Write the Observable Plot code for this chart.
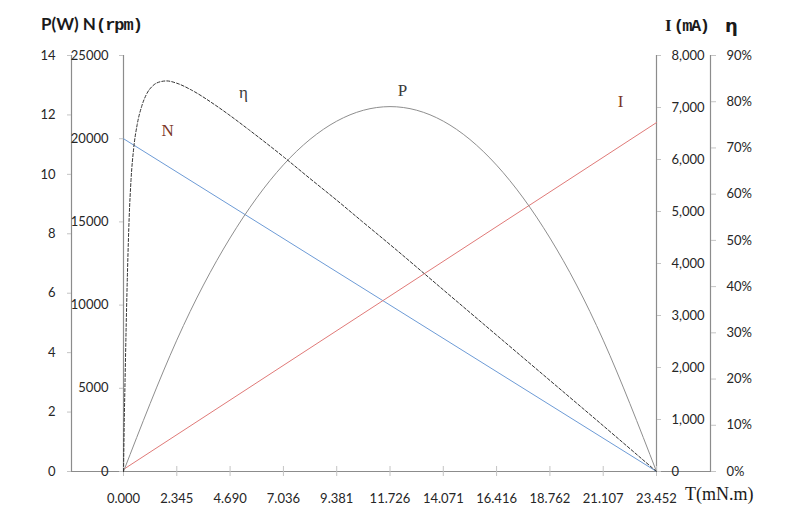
<!DOCTYPE html>
<html><head><meta charset="utf-8">
<script src="https://cdn.jsdelivr.net/npm/d3@7"></script>
<script src="https://cdn.jsdelivr.net/npm/@observablehq/plot@0.6"></script>
<style>
body{margin:0;background:#fff;}
#wrap{position:relative;width:808px;height:516px;overflow:hidden;background:#fff;}
#wrap svg{position:absolute;left:0;top:0;}
.lab{position:absolute;white-space:nowrap;color:#1a1a1a;line-height:1;}
</style></head><body><div id="wrap"></div>
<script>
// ---- data ----
const xTicks = [0, 2.345, 4.690, 7.036, 9.381, 11.726, 14.071, 16.416, 18.762, 21.107, 23.452];
const powerT = [0, 2.345, 4.690, 7.036, 9.381, 11.726, 14.071, 16.416, 18.762, 21.107, 23.452];
const powerW = [0, 4.42, 7.86, 10.32, 11.79, 12.28, 11.79, 10.31, 7.86, 4.42, 0];
const speedT = [0, 23.452];
const speedRpm = [20000, 0];
const currentT = [0, 23.452];
const currentMA = [40, 6710];
const effT = [0, 0.03, 0.07, 0.12, 0.18, 0.25, 0.33, 0.45, 0.6, 0.8, 1.0, 1.3, 1.6, 1.9, 2.345, 3.0, 4.0, 4.69, 5.5, 7.036, 8.2, 9.381, 10.5, 11.726, 14.071, 16.416, 18.762, 21.107, 23.452];
const effPct = [0, 10, 20, 32, 44, 55, 63, 70, 75, 79, 81.5, 83.5, 84.3, 84.5, 84.0, 82.5, 79.4, 77.0, 74.0, 68.1, 63.4, 58.7, 54.1, 49.1, 39.3, 29.5, 19.7, 9.9, 0];
const pTicks = [0, 2, 4, 6, 8, 10, 12, 14];
const nTicks = [0, 5000, 10000, 15000, 20000, 25000];
const iTicks = [0, 1000, 2000, 3000, 4000, 5000, 6000, 7000, 8000];
const effTicks = [0, 10, 20, 30, 40, 50, 60, 70, 80, 90];
const curveNames = ["N", "η", "P", "I"];
const curveLabelT = [1.94, 5.28, 12.28, 21.87];
const curveLabelP = [11.48, 12.75, 12.82, 12.45];
const curveLabelColor = ["#7b3526", "#3a3a3a", "#3a3a3a", "#7b3526"];

const P_MAX = 14, N_MAX = 25000, I_MAX = 8000, E_MAX = 90;

const lineData = (ts, vs, max) => ts.map((t, i) => ({t, v: vs[i] / max}));
const powerData = lineData(powerT, powerW, P_MAX);
const speedData = lineData(speedT, speedRpm, N_MAX);
const currentData = lineData(currentT, currentMA, I_MAX);
const effData = lineData(effT, effPct, E_MAX);
const labels = curveNames.map((n, i) => ({n, t: curveLabelT[i], v: curveLabelP[i] / P_MAX, c: curveLabelColor[i]}));

const tickCol = "#c4c4c4", axisCol = "#8c8c8c", textCol = "#262626";
const tMin = xTicks[0], tMax = xTicks[xTicks.length - 1];

const chart = Plot.plot({
  width: 808, height: 516,
  marginTop: 55, marginBottom: 45, marginLeft: 71, marginRight: 98,
  x: {domain: [-2.288, 25.828], label: null},
  y: {domain: [0, 1], label: null},
  style: {fontFamily: "Lato, 'Open Sans', sans-serif", fontSize: "13px", color: textCol, background: "white"},
  marks: [
    // axis lines
    Plot.ruleY([0], {stroke: axisCol, strokeWidth: 1.2}),
    Plot.frame({anchor: "left", stroke: axisCol, strokeWidth: 1.2}),
    Plot.frame({anchor: "right", stroke: axisCol, strokeWidth: 1.2}),
    Plot.ruleX([tMin, tMax], {stroke: axisCol, strokeWidth: 1.2}),
    // P axis
    Plot.axisY(pTicks.map(v => v / P_MAX), {anchor: "left", label: null, tickSize: 4, tickPadding: 12, stroke: tickCol, fill: textCol,
      tickFormat: d => String(Math.round(d * P_MAX))}),
    // N axis
    Plot.axisY(nTicks.map(v => v / N_MAX), {anchor: "left", label: null, dx: 52, tickSize: 4, tickPadding: 11, stroke: tickCol, fill: textCol,
      tickFormat: d => String(Math.round(d * N_MAX))}),
    // I axis
    Plot.axisY(iTicks.map(v => v / I_MAX), {anchor: "right", label: null, dx: -54, tickSize: 4, tickPadding: 11, stroke: tickCol, fill: textCol,
      tickFormat: d => d3.format(",")(Math.round(d * I_MAX))}),
    // efficiency axis
    Plot.axisY(effTicks.map(v => v / E_MAX), {anchor: "right", label: null, tickSize: 5, tickPadding: 11, stroke: tickCol, fill: textCol,
      tickFormat: d => Math.round(d * E_MAX) + "%"}),
    // T axis
    Plot.axisX(xTicks, {anchor: "bottom", label: null, tickSize: 10, dy: -5, tickPadding: 17, stroke: tickCol, fill: textCol,
      tickFormat: d => d.toFixed(3)}),
    // curves
    Plot.line(speedData, {x: "t", y: "v", stroke: "#6d9bd6", strokeWidth: 1}),
    Plot.line(currentData, {x: "t", y: "v", stroke: "#e07a78", strokeWidth: 1}),
    Plot.line(powerData, {x: "t", y: "v", stroke: "#8e8e8e", strokeWidth: 1, curve: "natural"}),
    Plot.line(effData, {x: "t", y: "v", stroke: "#333", strokeWidth: 1, strokeDasharray: "3,2", curve: "monotone-x"}),
    // curve labels
    Plot.text(labels, {x: "t", y: "v", text: "n", fill: "c", fontFamily: "'Liberation Serif', 'DejaVu Serif', serif", fontSize: 17})
  ]
});
const wrap = document.getElementById("wrap");
wrap.appendChild(chart);

function addLabel(html, left, top, css) {
  const d = document.createElement("div");
  d.className = "lab";
  d.innerHTML = html;
  d.style.left = left + "px";
  d.style.top = top + "px";
  Object.assign(d.style, css);
  wrap.appendChild(d);
}
addLabel('P(W) N<span style="font-family:\'Liberation Mono\',monospace;font-weight:bold;letter-spacing:-1px">(rpm)</span>', 41, 15,
  {fontFamily: "Lato, sans-serif", fontWeight: "bold", fontSize: "17px"});
addLabel('I<span style="font-family:\'Liberation Mono\',monospace;letter-spacing:-1.5px;margin-left:2px">(mA)</span>', 665, 17,
  {fontFamily: "'Liberation Serif', serif", fontWeight: "bold", fontSize: "17px"});
addLabel('η', 725, 17, {fontFamily: "'DejaVu Sans', sans-serif", fontWeight: "bold", fontSize: "18px"});
addLabel('T(mN.m)', 685, 485, {fontFamily: "'Liberation Serif', serif", fontSize: "18px", letterSpacing: "0px"});
</script></body></html>
